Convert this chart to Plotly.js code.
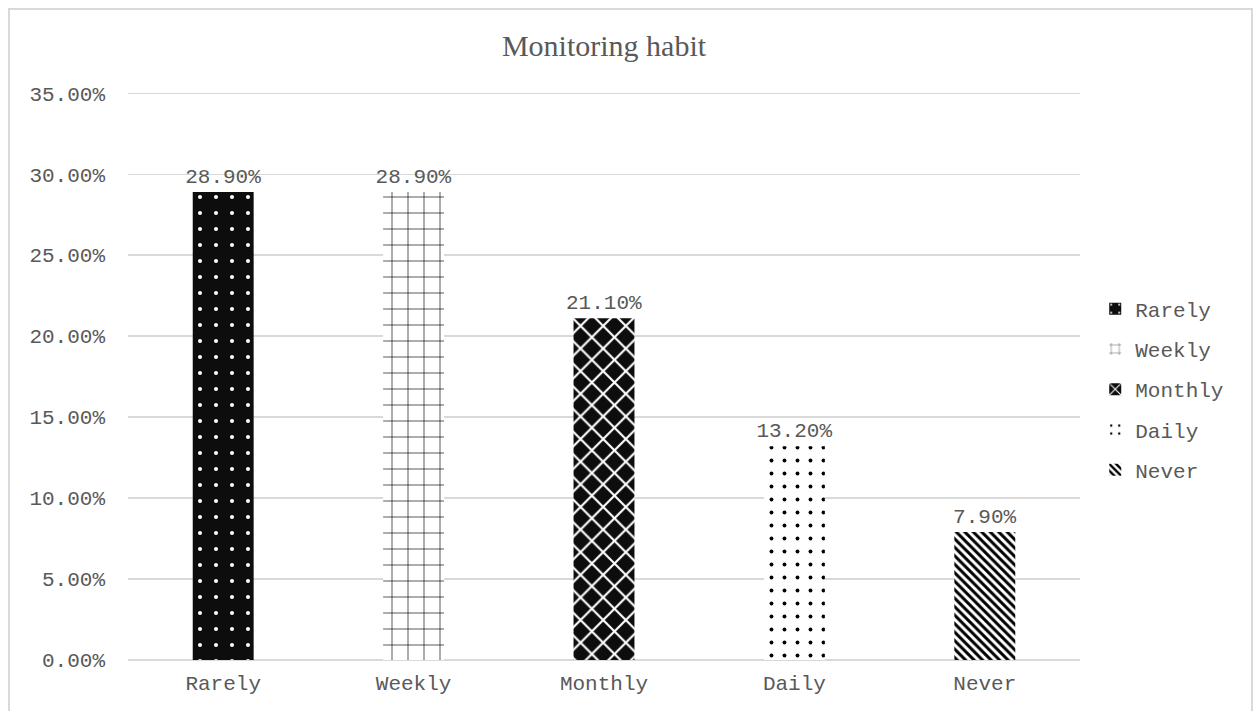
<!DOCTYPE html>
<html>
<head>
<meta charset="utf-8">
<script src="https://cdn.plot.ly/plotly-3.0.1.min.js"></script>
<style>
  html, body { margin: 0; padding: 0; background: #ffffff; overflow: hidden; }
  #frame { position: absolute; left: 8px; top: 8px; width: 1245px; height: 720px;
           border: 2px solid #d9d9d9; box-sizing: border-box; }
  #chart { position: absolute; left: 0; top: 0; width: 1257px; height: 711px; }
</style>
</head>
<body>
<div id="frame"></div>
<div id="chart"></div>
<script>
// Survey answers: how often respondents monitor
const categories = ["Rarely", "Weekly", "Monthly", "Daily", "Never"];
const shares = [0.289, 0.289, 0.211, 0.132, 0.079];
const yTickValues = [0, 0.05, 0.10, 0.15, 0.20, 0.25, 0.30, 0.35];

// Fill pattern of each bar
const patterns = [
  { shape: ".",  bgcolor: "#0d0d0d", fgcolor: "#ffffff", size: 16, solidity: 0.05 },
  { shape: "+",  bgcolor: "#ffffff", fgcolor: "#000000", size: 16, solidity: 0.08 },
  { shape: "x",  bgcolor: "#0d0d0d", fgcolor: "#ffffff", size: 16, solidity: 0.25 },
  { shape: ".",  bgcolor: "#ffffff", fgcolor: "#000000", size: 13, solidity: 0.07 },
  { shape: "\\", bgcolor: "#ffffff", fgcolor: "#000000", size: 6,  solidity: 0.5 }
];

const mono = "'Liberation Mono', 'Courier New', monospace";
const textGray = "#595959";

const traces = categories.map((c, i) => ({
  type: "bar",
  name: c,
  legendgroup: c,
  x: [c],
  y: [shares[i]],
  width: 0.32,
  marker: {
    color: patterns[i].bgcolor,
    line: { width: 0 },
    pattern: {
      shape: patterns[i].shape,
      bgcolor: patterns[i].bgcolor,
      fgcolor: patterns[i].fgcolor,
      fgopacity: 1,
      size: patterns[i].size,
      solidity: patterns[i].solidity,
      fillmode: "replace"
    }
  },
  text: [(shares[i] * 100).toFixed(2) + "%"],
  textposition: "outside",
  constraintext: "none",
  cliponaxis: false,
  textfont: { family: mono, size: 21, color: textGray },
  hoverinfo: "skip"
}));

const layout = {
  width: 1257,
  height: 711,
  paper_bgcolor: "rgba(0,0,0,0)",
  plot_bgcolor: "rgba(0,0,0,0)",
  margin: { l: 128, r: 177, t: 77, b: 51 },
  barmode: "overlay",
  title: {
    text: "Monitoring habit",
    font: { family: "'Liberation Serif', 'Times New Roman', serif", size: 30, color: textGray },
    x: 0.5, xref: "paper", xanchor: "center",
    y: 1 - 45 / 711, yref: "container", yanchor: "middle"
  },
  xaxis: {
    type: "category",
    categoryorder: "array",
    categoryarray: categories,
    showgrid: false,
    showline: false,
    ticks: "",
    tickfont: { family: mono, size: 21, color: textGray },
    ticklabelstandoff: 8
  },
  yaxis: {
    range: [0, 0.36],
    tickvals: yTickValues,
    ticktext: yTickValues.map(v => (v * 100).toFixed(2) + "%"),
    showgrid: true,
    gridcolor: "#d9d9d9",
    gridwidth: 1.3,
    zeroline: true,
    zerolinecolor: "#d9d9d9",
    zerolinewidth: 2,
    showline: false,
    ticks: "",
    tickfont: { family: mono, size: 21, color: textGray },
    ticklabelstandoff: 22
  },
  showlegend: true,
  legend: {
    x: 1.016, xanchor: "left",
    y: 0.464, yanchor: "middle",
    font: { family: mono, size: 21, color: textGray },
    tracegroupgap: 10,
    itemwidth: 30,
    bgcolor: "rgba(0,0,0,0)"
  }
};

Plotly.newPlot("chart", traces, layout, { displayModeBar: false, staticPlot: true });
</script>
</body>
</html>
